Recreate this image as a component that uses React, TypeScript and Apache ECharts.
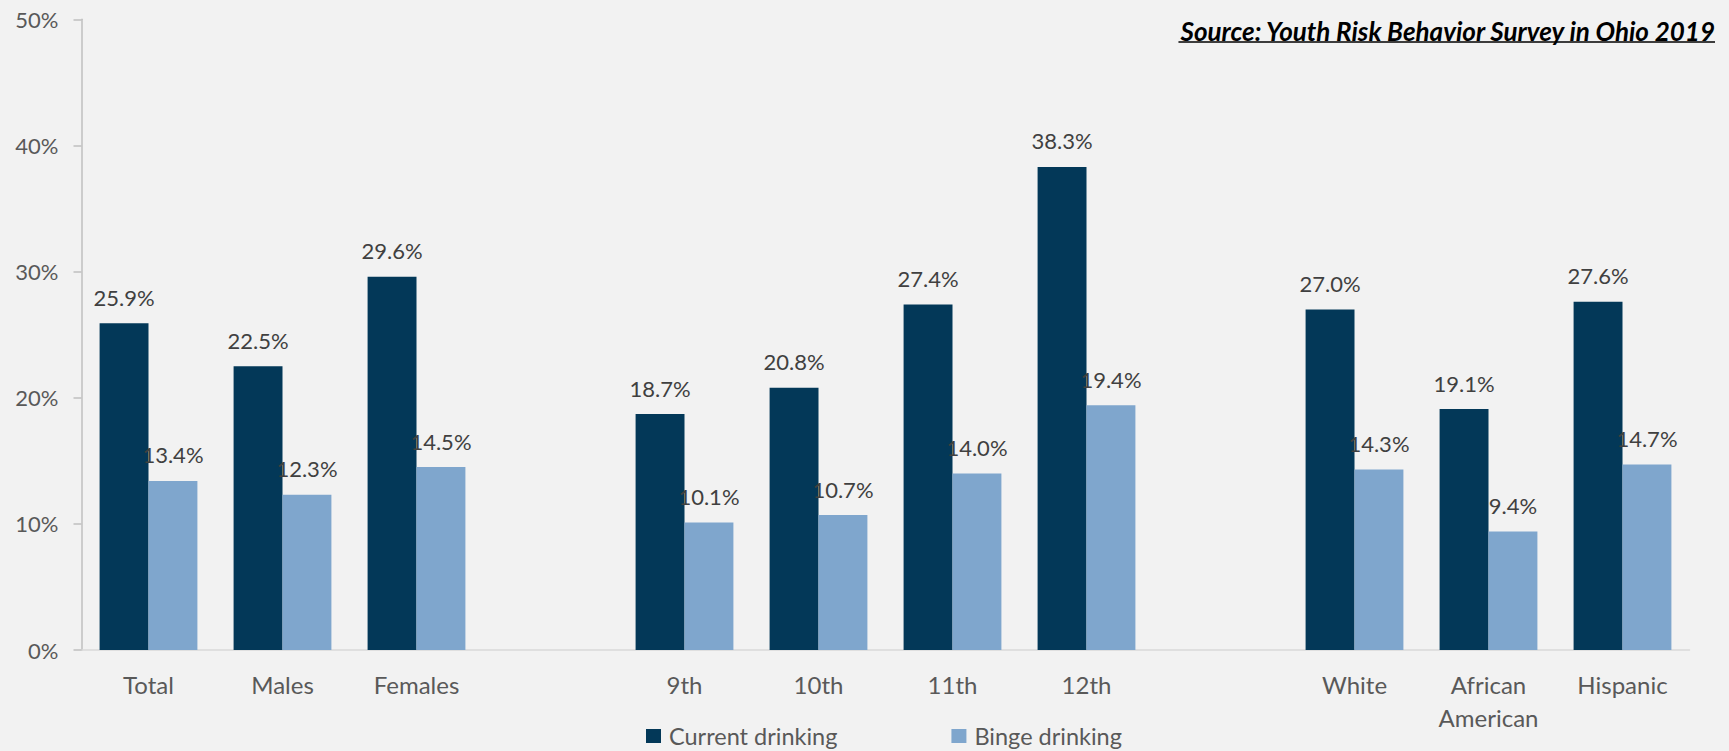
import React, { useEffect, useRef } from "react";
import * as echarts from "echarts";

const categories = ["Total", "Males", "Females", "", "9th", "10th", "11th", "12th", "", "White", "African\nAmerican", "Hispanic"];
const currentDrinking = [25.9, 22.5, 29.6, null, 18.7, 20.8, 27.4, 38.3, null, 27.0, 19.1, 27.6];
const bingeDrinking = [13.4, 12.3, 14.5, null, 10.1, 10.7, 14.0, 19.4, null, 14.3, 9.4, 14.7];
const seriesNames = ["Current drinking", "Binge drinking"];
const sourceText = "Source: Youth Risk Behavior Survey in Ohio 2019";

const FONT = "Lato, 'Open Sans', sans-serif";

export default function App() {
  const ref = useRef<HTMLDivElement>(null);
  useEffect(() => {
    document.body.style.margin = "0";
    if (!ref.current) return;
    const chart = echarts.init(ref.current, null, { renderer: "svg" });

    const srcFont = `italic bold 26px ${FONT}`;
    let srcW = 530;
    try {
      const ctx = document.createElement("canvas").getContext("2d");
      if (ctx) {
        ctx.font = srcFont;
        srcW = ctx.measureText(sourceText).width;
      }
    } catch (e) {}
    const srcRight = 1715;

    const labelStyle = {
      show: true,
      position: "top",
      distance: 15,
      color: "#404040",
      fontSize: 22,
      fontFamily: FONT,
      formatter: (p: any) => (p.value == null ? "" : Number(p.value).toFixed(1) + "%"),
    };

    chart.setOption({
      animation: false,
      backgroundColor: "#f2f2f2",
      grid: { left: 81.5, right: 39.5, top: 19.3, bottom: 101, containLabel: false },
      legend: {
        left: 641,
        top: 719,
        itemWidth: 15,
        itemHeight: 14,
        itemGap: 114,
        icon: "rect",
        textStyle: { color: "#595959", fontSize: 23.5, fontFamily: FONT, padding: [0, 0, 0, 3] },
        data: seriesNames,
      },
      xAxis: {
        type: "category",
        data: categories,
        axisLine: { lineStyle: { color: "#d9d9d9", width: 1.5 } },
        axisTick: { show: false },
        axisLabel: {
          color: "#595959",
          fontSize: 24,
          fontFamily: FONT,
          margin: 18,
          lineHeight: 33,
          interval: 0,
        },
      },
      yAxis: {
        type: "value",
        min: 0,
        max: 50,
        interval: 10,
        axisLine: { show: true, lineStyle: { color: "#bfbfbf", width: 1.5 } },
        axisTick: { show: true, length: 8, lineStyle: { color: "#bfbfbf", width: 1.5 } },
        splitLine: { show: false },
        axisLabel: {
          formatter: "{value}%",
          color: "#595959",
          fontSize: 22,
          fontFamily: FONT,
          margin: 23,
        },
      },
      series: [
        {
          name: seriesNames[0],
          type: "bar",
          data: currentDrinking,
          barGap: "0%",
          barCategoryGap: "27%",
          itemStyle: { color: "#033858" },
          label: labelStyle,
        },
        {
          name: seriesNames[1],
          type: "bar",
          data: bingeDrinking,
          barGap: "0%",
          barCategoryGap: "27%",
          itemStyle: { color: "#7fa6cd" },
          label: labelStyle,
        },
      ],
      graphic: [
        {
          type: "text",
          style: {
            text: sourceText,
            x: srcRight,
            y: 31,
            align: "right",
            verticalAlign: "middle",
            fill: "#000000",
            font: srcFont,
          },
        },
        {
          type: "line",
          shape: { x1: srcRight - srcW, y1: 42, x2: srcRight, y2: 42 },
          style: { stroke: "#000000", lineWidth: 1.5 },
        },
      ],
    });
    return () => chart.dispose();
  }, []);
  return <div ref={ref} style={{ width: 1729, height: 751 }} />;
}
